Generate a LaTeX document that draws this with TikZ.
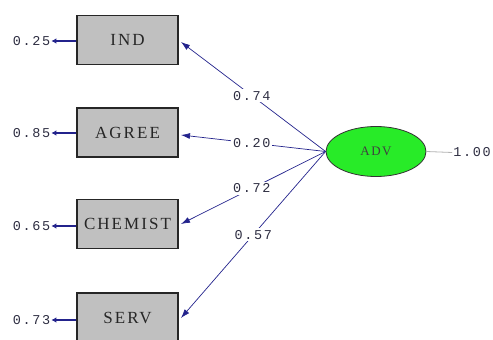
\documentclass[tikz,border=0pt]{standalone}
\usepackage{fontspec}
\setmainfont{Liberation Serif}
\newfontfamily\numfont[LetterSpace=12]{Liberation Mono}
\newfontfamily\boxfont[LetterSpace=12]{Liberation Serif}
\usetikzlibrary{arrows.meta,shapes.geometric}
\definecolor{pathblue}{RGB}{35,35,140}
\definecolor{boxgray}{RGB}{192,192,192}
\definecolor{latgreen}{RGB}{40,235,40}
\definecolor{numcol}{RGB}{45,45,65}
\tikzset{
  obsbox/.style={draw=black!85, line width=1.2pt, fill=boxgray, minimum width=101pt, minimum height=49pt, inner sep=0pt, font=\boxfont\fontsize{17}{17}\selectfont, text=black!85},
  latent/.style={ellipse, draw=black!80, line width=0.8pt, fill=latgreen, minimum width=100pt, minimum height=50pt, inner sep=0pt, font=\boxfont\fontsize{13}{13}\selectfont, text=black!75},
  numlab/.style={font=\numfont\fontsize{13.5}{13.5}\selectfont, text=numcol, inner sep=1pt},
  coef/.style={numlab, fill=white, inner sep=2pt},
  load/.style={draw=pathblue, line width=0.7pt, -{Latex[length=9pt,width=6pt]}},
  errarr/.style={draw=pathblue, line width=1.7pt, -{Latex[length=5pt,width=5.5pt]}}
}
\begin{document}
\begin{tikzpicture}[x=1pt,y=-1pt]
\useasboundingbox (0,0) rectangle (493,340);
\clip (0,0) rectangle (493,340);
\node[obsbox] (ind) at (127.5,40) {IND};
\node[obsbox] (agree) at (127.5,132.5) {AGREE};
\node[obsbox] (chem) at (127.5,224) {CHEMIST};
\node[obsbox] (serv) at (127.5,317.5) {SERV};
\node[latent] (adv) at (376,151.5) {ADV};
% error terms
\node[numlab] (eind) at (31.5,41) {0.25};
\node[numlab] (eagree) at (31.5,133) {0.85};
\node[numlab] (echem) at (31.5,226) {0.65};
\node[numlab] (eserv) at (31.5,320) {0.73};
\draw[errarr] (ind.west |- eind) -- (eind.east);
\draw[errarr] (agree.west |- eagree) -- (eagree.east);
\draw[errarr] (chem.west |- echem) -- (echem.east);
\draw[errarr] (serv.west |- eserv) -- (eserv.east);
% loadings
\coordinate (tind) at (181,42);
\coordinate (tagree) at (181,135);
\coordinate (tchem) at (181,224);
\coordinate (tserv) at (181,318);
\draw[load] (adv.west) -- node[coef, pos=0.51] {0.74} (tind);
\draw[load] (adv.west) -- node[coef, pos=0.51] {0.20} (tagree);
\draw[load] (adv.west) -- node[coef, pos=0.51] {0.72} (tchem);
\draw[load] (adv.west) -- node[coef, pos=0.5] {0.57} (tserv);
% latent variance
\node[numlab] (vadv) at (472,152.5) {1.00};
\draw[draw=black!30, line width=0.8pt] (adv.east) -- (vadv.west);
\end{tikzpicture}
\end{document}
